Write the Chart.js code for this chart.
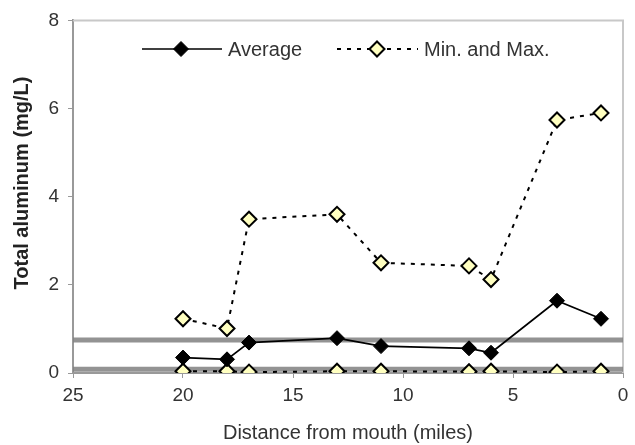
<!DOCTYPE html>
<html><head><meta charset="utf-8">
<script src="https://cdn.jsdelivr.net/npm/chart.js@4/dist/chart.umd.min.js"></script>
<style>html,body{margin:0;padding:0;background:#fff}#wrap{width:635px;height:445px}</style>
</head><body><div id="wrap"><canvas id="c" width="635" height="445"></canvas></div>
<script>
const miles = [20, 18, 17, 13, 11, 7, 6, 3, 1];
const average = [0.35, 0.31, 0.69, 0.79, 0.61, 0.56, 0.46, 1.64, 1.23];
const maximum = [1.23, 1.01, 3.49, 3.60, 2.50, 2.43, 2.12, 5.74, 5.90];
const minimum = [0.04, 0.04, 0.02, 0.04, 0.04, 0.03, 0.04, 0.02, 0.04];
const criteria = [0.75, 0.087];
const xRange = [0, 25];
const yTicks = [0, 2, 4, 6, 8];
const xTicks = [0, 5, 10, 15, 20, 25];
const yTitle = 'Total aluminum (mg/L)';
const xTitle = 'Distance from mouth (miles)';

const pts = (ys) => miles.map((m, i) => ({x: m, y: ys[i]}));
const FONT = "'Liberation Sans', Arial, sans-serif";
const TXT = '#333';

const avgStyle = {pointStyle:'rectRot', pointRadius:7.5, pointBackgroundColor:'#000', pointBorderColor:'#000', pointBorderWidth:1, borderColor:'#000', borderWidth:1.7};
const mmStyle = {pointStyle:'rectRot', pointRadius:7.5, pointBackgroundColor:'#ffffc0', pointBorderColor:'#000', pointBorderWidth:2, borderColor:'#000', borderWidth:2, borderDash:[4,6]};

const datasets = [
  Object.assign({label:'Average', data: pts(average), order:1}, avgStyle),
  Object.assign({label:'Min. and Max.', data: pts(maximum), order:2}, mmStyle),
  Object.assign({label:'_min', data: pts(minimum), order:2}, mmStyle),
];
criteria.forEach((v) => datasets.push({label:'_crit', data:[{x:xRange[0],y:v},{x:xRange[1],y:v}], borderColor:'rgba(128,128,128,0.85)', borderWidth:5, pointRadius:0, order:3}));

const frame = {
  id:'frame',
  beforeDatasetsDraw(chart){
    const {ctx, chartArea:a} = chart;
    ctx.save();
    ctx.strokeStyle = '#c8c8c8'; ctx.lineWidth = 2;
    ctx.beginPath(); ctx.moveTo(a.left, a.top); ctx.lineTo(a.right, a.top); ctx.lineTo(a.right, a.bottom); ctx.stroke();
    ctx.restore();
  },
  afterDraw(chart){
    const {ctx} = chart;
    const items = [
      {ds:0, x0:142, x1:222, mx:181, tx:228},
      {ds:1, x0:337, x1:418, mx:377, tx:424},
    ];
    const y = 49;
    ctx.save();
    items.forEach(it => {
      const d = chart.data.datasets[it.ds];
      ctx.strokeStyle = d.borderColor; ctx.lineWidth = d.borderWidth;
      ctx.setLineDash(d.borderDash || []);
      ctx.beginPath(); ctx.moveTo(it.x0, y); ctx.lineTo(it.x1, y); ctx.stroke();
      ctx.setLineDash([]);
      ctx.fillStyle = d.pointBackgroundColor; ctx.strokeStyle = d.pointBorderColor; ctx.lineWidth = d.pointBorderWidth;
      ctx.beginPath();
      const r = d.pointRadius;
      ctx.moveTo(it.mx - r, y); ctx.lineTo(it.mx, y - r); ctx.lineTo(it.mx + r, y); ctx.lineTo(it.mx, y + r); ctx.closePath();
      ctx.fill(); ctx.stroke();
      ctx.fillStyle = TXT; ctx.font = '20px ' + FONT; ctx.textBaseline = 'middle'; ctx.textAlign = 'left';
      ctx.fillText(d.label, it.tx, y + 1);
    });
    // y axis title
    ctx.translate(22, 183);
    ctx.rotate(-Math.PI / 2);
    ctx.fillStyle = '#222'; ctx.font = 'bold 20px ' + FONT; ctx.textAlign = 'center'; ctx.textBaseline = 'middle';
    ctx.fillText(yTitle, 0, 0);
    ctx.restore();
  }
};

new Chart(document.getElementById('c'), {
  type:'line',
  data:{datasets},
  plugins:[frame],
  options:{
    responsive:false, animation:false,
    layout:{padding:{top:20, right:12, left:0, bottom:0}},
    plugins:{legend:{display:false}, tooltip:{enabled:false}},
    scales:{
      x:{type:'linear', min:xRange[0], max:xRange[1], reverse:true,
        afterBuildTicks(s){ s.ticks = xTicks.map(v=>({value:v})); },
        afterFit(s){ s.height = 72; },
        grid:{display:true, drawOnChartArea:false, drawTicks:true, tickLength:5, color:'#999'},
        border:{color:'#999', width:2},
        ticks:{font:{family:FONT, size:19}, color:TXT, padding:6, maxRotation:0},
        title:{display:true, text:xTitle, font:{family:FONT, size:20}, color:TXT, padding:{top:0,bottom:0}}
      },
      y:{type:'linear', min:0, max:8,
        afterBuildTicks(s){ s.ticks = yTicks.map(v=>({value:v})); },
        afterFit(s){ s.width = 73; },
        grid:{display:true, drawOnChartArea:false, drawTicks:true, tickLength:5, color:'#999'},
        border:{color:'#999', width:2},
        ticks:{font:{family:FONT, size:19}, color:TXT, padding:9},
        title:{display:false}
      }
    }
  }
});
</script></body></html>
